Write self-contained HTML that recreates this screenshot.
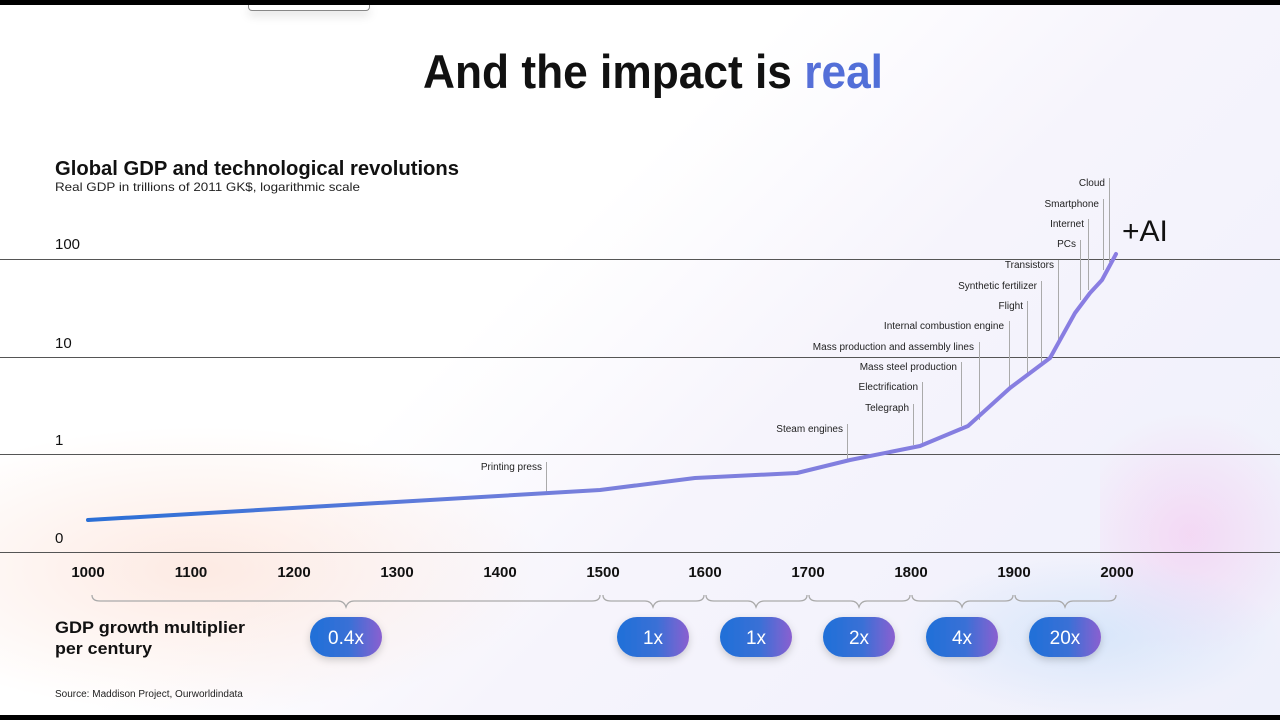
<!DOCTYPE html>
<html><head><meta charset="utf-8"><style>
html,body{margin:0;padding:0;width:1280px;height:720px;overflow:hidden;background:#000;}
#s{position:absolute;left:0;top:5px;width:1280px;height:710px;background:linear-gradient(135deg,#fff 0%,#fff 40%,#f6f4fc 60%,#eef0fb 100%);overflow:hidden;font-family:"Liberation Sans",sans-serif;}
.g1{position:absolute;left:-150px;top:420px;width:700px;height:290px;background:radial-gradient(ellipse at center,rgba(252,225,215,0.7),rgba(255,255,255,0) 70%);}
.g2{position:absolute;left:1100px;top:380px;width:180px;height:300px;background:radial-gradient(circle,rgba(245,200,240,0.6),rgba(255,255,255,0) 70%);}
.g3{position:absolute;left:900px;top:550px;width:380px;height:160px;background:radial-gradient(ellipse,rgba(205,225,250,0.7),rgba(255,255,255,0) 70%);}
</style></head><body><div id="s">
<div class="g1"></div><div class="g2"></div><div class="g3"></div>
<div style="position:absolute;left:248px;top:0;width:120px;height:5px;background:#fff;border:1px solid #888;border-top:none;border-radius:0 0 4px 4px;box-shadow:0 4px 10px rgba(0,0,0,0.15)"></div>
<svg width="1280" height="710" style="position:absolute;left:0;top:0;display:block" font-family="Liberation Sans, sans-serif">
<defs>
<linearGradient id="lg" x1="88" y1="0" x2="1116" y2="0" gradientUnits="userSpaceOnUse"><stop offset="0" stop-color="#2a6fd6"/><stop offset="0.5" stop-color="#7a80dc"/><stop offset="1" stop-color="#8a7de2"/></linearGradient>
<linearGradient id="pg" x1="0" y1="0" x2="1" y2="0"><stop offset="0" stop-color="#1f6fd8"/><stop offset="0.55" stop-color="#3a70d6"/><stop offset="1" stop-color="#8a60d0"/></linearGradient>
<linearGradient id="tg" x1="0" y1="0" x2="1" y2="0"><stop offset="0" stop-color="#7a6fd8"/><stop offset="1" stop-color="#4f6fd8"/></linearGradient>
<filter id="sh" x="-30%" y="-50%" width="160%" height="200%"><feDropShadow dx="0" dy="3" stdDeviation="4" flood-color="#000" flood-opacity="0.18"/></filter>
</defs>
<text x="653" y="83" text-anchor="middle" font-size="47" font-weight="bold" fill="#111" textLength="460" lengthAdjust="spacingAndGlyphs">And the impact is <tspan fill="url(#tg)">real</tspan></text>
<text x="55" y="170" font-size="20" font-weight="bold" fill="#111" textLength="404" lengthAdjust="spacingAndGlyphs">Global GDP and technological revolutions</text>
<text x="55" y="186" font-size="12" fill="#222" textLength="305" lengthAdjust="spacingAndGlyphs">Real GDP in trillions of 2011 GK$, logarithmic scale</text>
<g stroke="#555" stroke-width="1"><line x1="0" y1="254.5" x2="1280" y2="254.5"/><line x1="0" y1="352.5" x2="1280" y2="352.5"/><line x1="0" y1="449.5" x2="1280" y2="449.5"/><line x1="0" y1="547.5" x2="1280" y2="547.5"/></g>
<g font-size="15" fill="#111"><text x="55" y="244">100</text><text x="55" y="343">10</text><text x="55" y="440">1</text><text x="55" y="538">0</text></g>
<g font-size="15" fill="#111" text-anchor="middle" font-weight="bold">
<text x="88" y="572">1000</text><text x="191" y="572">1100</text><text x="294" y="572">1200</text><text x="397" y="572">1300</text><text x="500" y="572">1400</text><text x="603" y="572">1500</text><text x="705" y="572">1600</text><text x="808" y="572">1700</text><text x="911" y="572">1800</text><text x="1014" y="572">1900</text><text x="1117" y="572">2000</text></g>
<g stroke="#aaa" stroke-width="1">
<line x1="546.5" y1="457" x2="546.5" y2="487"/><line x1="847.5" y1="419" x2="847.5" y2="454"/><line x1="913.5" y1="399" x2="913.5" y2="440"/><line x1="922.5" y1="377" x2="922.5" y2="438"/><line x1="961.5" y1="357" x2="961.5" y2="421"/><line x1="979.5" y1="337" x2="979.5" y2="415"/><line x1="1009.5" y1="316" x2="1009.5" y2="385"/><line x1="1027.5" y1="296" x2="1027.5" y2="368"/><line x1="1041.5" y1="276" x2="1041.5" y2="357"/><line x1="1058.5" y1="255" x2="1058.5" y2="335"/><line x1="1080.5" y1="235" x2="1080.5" y2="295"/><line x1="1088.5" y1="214" x2="1088.5" y2="285"/><line x1="1103.5" y1="194" x2="1103.5" y2="265"/><line x1="1109.5" y1="173" x2="1109.5" y2="257"/></g>
<g font-size="10" fill="#222" text-anchor="end">
<text x="542" y="465">Printing press</text><text x="843" y="427">Steam engines</text><text x="909" y="406">Telegraph</text><text x="918" y="385">Electrification</text><text x="957" y="365">Mass steel production</text><text x="974" y="345">Mass production and assembly lines</text><text x="1004" y="324">Internal combustion engine</text><text x="1023" y="304">Flight</text><text x="1037" y="284">Synthetic fertilizer</text><text x="1054" y="263">Transistors</text><text x="1076" y="242">PCs</text><text x="1084" y="222">Internet</text><text x="1099" y="202">Smartphone</text><text x="1105" y="181">Cloud</text></g>
<polyline fill="none" stroke="url(#lg)" stroke-width="4" stroke-linejoin="round" stroke-linecap="round" points="88,515 600,485 695,473 797,468 850,455 920,441 968,421 1010,383 1050,353 1075,308 1090,288 1102,275 1116,249"/>
<text x="1122" y="236" font-size="30" fill="#111">+AI</text>
<g fill="none" stroke="#aaa" stroke-width="1.3">
<path d="M92,590 q0,6 8,6 H338 q6,0 8,6 q2,-6 8,-6 H592 q8,0 8,-6"/>
<path d="M603,590 q0,6 8,6 H645 q6,0 8,6 q2,-6 8,-6 H696 q8,0 8,-6"/>
<path d="M706,590 q0,6 8,6 H748 q6,0 8,6 q2,-6 8,-6 H799 q8,0 8,-6"/>
<path d="M809,590 q0,6 8,6 H851 q6,0 8,6 q2,-6 8,-6 H902 q8,0 8,-6"/>
<path d="M912,590 q0,6 8,6 H954 q6,0 8,6 q2,-6 8,-6 H1005 q8,0 8,-6"/>
<path d="M1015,590 q0,6 8,6 H1057 q6,0 8,6 q2,-6 8,-6 H1108 q8,0 8,-6"/></g>
<text x="55" y="628" font-size="17" font-weight="bold" fill="#111" textLength="190" lengthAdjust="spacingAndGlyphs">GDP growth multiplier</text>
<text x="55" y="649" font-size="17" font-weight="bold" fill="#111" textLength="97" lengthAdjust="spacingAndGlyphs">per century</text>
<g filter="url(#sh)" fill="url(#pg)">
<rect x="310" y="612" width="72" height="40" rx="20"/><rect x="617" y="612" width="72" height="40" rx="20"/><rect x="720" y="612" width="72" height="40" rx="20"/><rect x="823" y="612" width="72" height="40" rx="20"/><rect x="926" y="612" width="72" height="40" rx="20"/><rect x="1029" y="612" width="72" height="40" rx="20"/></g>
<g font-size="19" fill="#fff" text-anchor="middle">
<text x="346" y="639">0.4x</text><text x="653" y="639">1x</text><text x="756" y="639">1x</text><text x="859" y="639">2x</text><text x="962" y="639">4x</text><text x="1065" y="639">20x</text></g>
<text x="55" y="692" font-size="10" fill="#222">Source: Maddison Project, Ourworldindata</text>
</svg></div></body></html>
